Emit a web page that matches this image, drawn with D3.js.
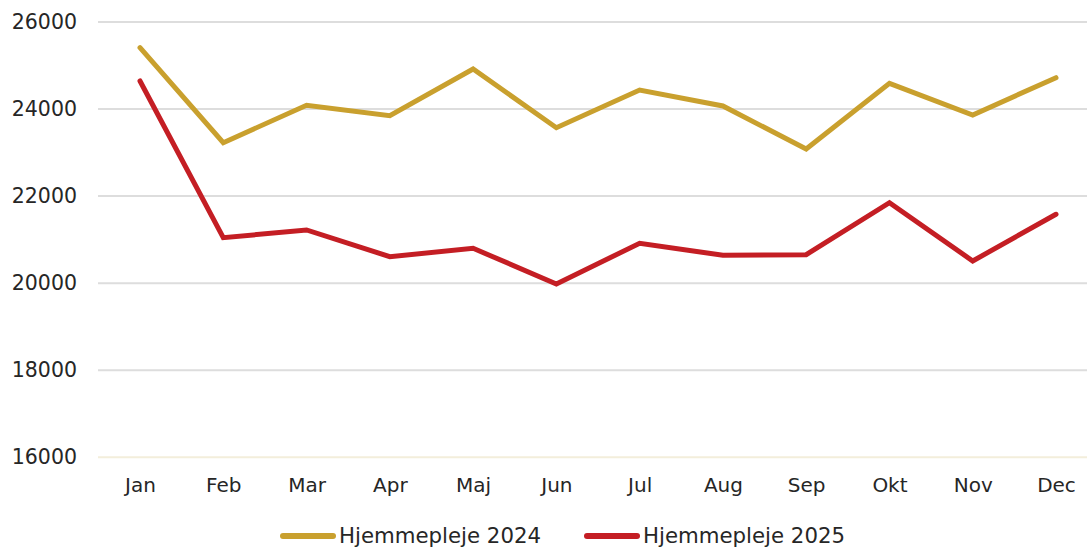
<!DOCTYPE html>
<html><head><meta charset="utf-8">
<script src="https://cdn.jsdelivr.net/npm/d3@7"></script>
<style>html,body{margin:0;padding:0;background:#fff;}svg{display:block;font-family:"DejaVu Sans",Verdana,sans-serif;}</style>
</head><body>
<svg id="chart" width="1087" height="547"></svg>
<script>
const months = ["Jan","Feb","Mar","Apr","Maj","Jun","Jul","Aug","Sep","Okt","Nov","Dec"];
const values2024 = [25410,23228,24087,23848,24920,23572,24438,24071,23083,24592,23864,24721];
const values2025 = [24645,21045,21222,20609,20802,19982,20917,20641,20655,21849,20510,21583];
const yTicks = [16000,18000,20000,22000,24000,26000];
const seriesNames = ["Hjemmepleje 2024","Hjemmepleje 2025"];
const colors = ["#C9A02E","#C41E24"];

const svg = d3.select("#chart");
const x = d3.scalePoint().domain(months).range([140,1056]);
const y = d3.scaleLinear().domain([16000,26000]).range([457.3,22]);
const gridL = 98, gridR = 1087;

// gridlines
svg.append("g").selectAll("line").data(yTicks).join("line")
  .attr("x1",gridL).attr("x2",gridR)
  .attr("y1",d=>y(d)).attr("y2",d=>y(d))
  .attr("stroke",d=>d===16000?"#F3EEDB":"#DDDDDD").attr("stroke-width",2);

// y axis labels
const yAxis = d3.axisLeft(y).tickValues(yTicks).tickSize(0).tickPadding(0).tickFormat(d3.format("d"));
const gy = svg.append("g").attr("transform","translate(77,0)").call(yAxis);
gy.select(".domain").remove();
gy.selectAll("text").attr("font-size",20.5).attr("fill","#262626").attr("font-family","DejaVu Sans, Verdana, sans-serif");

// x axis labels
const xAxis = d3.axisBottom(x).tickSize(0).tickPadding(0);
const gx = svg.append("g").attr("transform","translate(0,478)").call(xAxis);
gx.select(".domain").remove();
gx.selectAll("text").attr("font-size",20).attr("fill","#262626").attr("font-family","DejaVu Sans, Verdana, sans-serif");

// lines
const line = d3.line().x((d,i)=>x(months[i])).y(d=>y(d));
[values2024, values2025].forEach((vals,k)=>{
  svg.append("path").datum(vals).attr("d",line)
    .attr("fill","none").attr("stroke",colors[k]).attr("stroke-width",5)
    .attr("stroke-linejoin","miter").attr("stroke-linecap","round");
});

// legend
const legX = [280,584];
seriesNames.forEach((name,k)=>{
  const g = svg.append("g");
  g.append("line").attr("x1",legX[k]+3).attr("x2",legX[k]+53).attr("y1",536).attr("y2",536)
    .attr("stroke",colors[k]).attr("stroke-width",6).attr("stroke-linecap","round");
  g.append("text").attr("x",legX[k]+59).attr("y",543).text(name)
    .attr("font-size",21).attr("fill","#262626")
    .attr("textLength",202).attr("lengthAdjust","spacingAndGlyphs");
});
</script>
</body></html>
